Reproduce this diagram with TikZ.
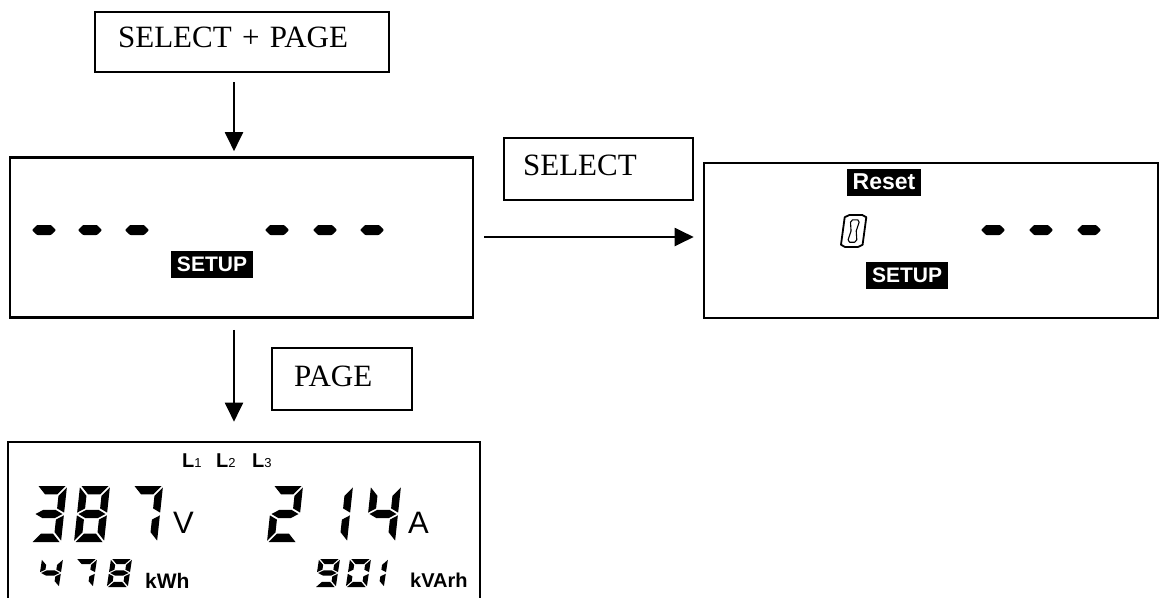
\documentclass[tikz,border=0pt]{standalone}
\usepackage{fontspec}
\setmainfont{Liberation Serif}
\newfontfamily\lcdsans{Liberation Sans}
\usetikzlibrary{arrows.meta}

% seven-segment geometry (cell: u in [0,1], v in [0,2], v downwards)
% \lcdTx: thickness of upright segments (u), \lcdTy: of flat ones (v), \lcdg: gap
\def\lcdTx{0.25}\def\lcdTy{0.3}\def\lcdg{0.05}\def\lcdk{0.1}

\def\lcdsega{\path[lcdseg] (\lcdg,0) -- ({1-\lcdg},0) -- ({1-\lcdTx-\lcdg},\lcdTy)
  -- ({\lcdTx+\lcdg},\lcdTy) -- cycle;}
\def\lcdsegd{\path[lcdseg] (\lcdg,2) -- ({1-\lcdg},2) -- ({1-\lcdTx-\lcdg},{2-\lcdTy})
  -- ({\lcdTx+\lcdg},{2-\lcdTy}) -- cycle;}
\def\lcdsegg{\path[lcdseg] (\lcdg,1) -- ({\lcdTx+\lcdg},{1-\lcdTy/2})
  -- ({1-\lcdTx-\lcdg},{1-\lcdTy/2}) -- ({1-\lcdg},1)
  -- ({1-\lcdTx-\lcdg},{1+\lcdTy/2}) -- ({\lcdTx+\lcdg},{1+\lcdTy/2}) -- cycle;}
\def\lcdsegf{\path[lcdseg] (0,\lcdg) -- (\lcdTx,{\lcdTy+\lcdg})
  -- (\lcdTx,{1-\lcdTy/2-\lcdg}) -- (0,{1-\lcdg}) -- cycle;}
\def\lcdsege{\path[lcdseg] (0,{1+\lcdg}) -- (\lcdTx,{1+\lcdTy/2+\lcdg})
  -- (\lcdTx,{2-\lcdTy-\lcdg}) -- (0,{2-\lcdg}) -- cycle;}
\def\lcdsegb{\path[lcdseg] (1,\lcdg) -- ({1-\lcdTx},{\lcdTy+\lcdg})
  -- ({1-\lcdTx},{1-\lcdTy/2-\lcdg}) -- (1,{1-\lcdg}) -- cycle;}
\def\lcdsegc{\path[lcdseg] (1,{1+\lcdg}) -- ({1-\lcdTx},{1+\lcdTy/2+\lcdg})
  -- ({1-\lcdTx},{2-\lcdTy-\lcdg}) -- (1,{2-\lcdg}) -- cycle;}

% {x of top-left}{y of top-left}{width}{height}{segments}
\newcommand\lcddigit[5]{%
  \begin{scope}[shift={(#1,#2)}, xscale=#3, yscale=#4/2, xslant=\lcdk]
    \foreach \s in {#5}{\csname lcdseg\s\endcsname}
  \end{scope}}

% hollow (outlined) zero: {x of top-left}{y of top-left}{width}{height}
\newcommand\lcdhollowzero[4]{%
  \begin{scope}[shift={(#1,#2)}, xscale=#3, yscale=#4/2, xslant=\lcdk]
    \draw[line width=1.8pt, fill=white, line join=round]
      (0.2,0) -- (0.8,0) -- (1,0.14) -- (1,1.86) -- (0.8,2) -- (0.2,2)
      -- (0,1.86) -- (0,0.14) -- cycle;
    \draw[line width=1.1pt, line join=round]
      (0.38,0.3) -- (0.62,0.3) -- (0.7,0.45) -- (0.62,1) -- (0.7,1.55)
      -- (0.62,1.7) -- (0.38,1.7) -- (0.3,1.55) -- (0.38,1) -- (0.3,0.45) -- cycle;
  \end{scope}}

% a lone dash of the display, centred at (#1,#2)
\newcommand\lcddash[2]{%
  \fill[rounded corners=0.8pt] (#1-12,#2) -- (#1-7,#2-5) -- (#1+7,#2-5)
    -- (#1+12,#2) -- (#1+7,#2+5) -- (#1-7,#2+5) -- cycle;}

\newcommand\keyfont{\fontsize{31pt}{31pt}\selectfont}
\newcommand\phsub[1]{{\mdseries\fontsize{13pt}{13pt}\selectfont#1}}

\begin{document}
\begin{tikzpicture}[x=1pt, y=-1pt,
  keybox/.style={draw, line width=2.2pt, inner ysep=0pt, font=\keyfont, align=left},
  lcdbox/.style={draw, line width=2.6pt, inner sep=0pt},
  lcdtag/.style={fill=black, text=white, inner sep=0pt, minimum height=27pt,
    font=\lcdsans\bfseries\fontsize{21pt}{21pt}\selectfont},
  unit/.style={anchor=base west, inner sep=0pt, font=\lcdsans\fontsize{31pt}{31pt}\selectfont},
  energy/.style={anchor=base west, inner sep=0pt, font=\lcdsans\bfseries\fontsize{21pt}{21pt}\selectfont},
  phase/.style={anchor=base west, inner sep=0pt, font=\lcdsans\bfseries\fontsize{20pt}{20pt}\selectfont},
  flow/.style={line width=2pt, -{Triangle[width=18pt,length=19pt]}},
  lcdseg/.style={fill=black}]
\useasboundingbox (0,0) rectangle (1161,597);

% key combinations
\node[keybox, anchor=north west, inner xsep=23pt, text width=248pt,
      text height=35pt, text depth=25pt] (combo) at (94,11) {SELECT + PAGE};
\node[keybox, anchor=north west, inner xsep=19pt, text width=151pt,
      text height=37pt, text depth=25pt] (sel) at (503,137) {SELECT};
\node[keybox, anchor=north west, inner xsep=22pt, text width=96pt,
      text height=38pt, text depth=24pt] (pg) at (271,347) {PAGE};

% display frames
\node[lcdbox, minimum width=463pt, minimum height=160pt] (setup) at (241.5,237.5) {};
\node[lcdbox, minimum width=454pt, minimum height=155pt] (reset) at (931,240.5) {};
\node[lcdbox, minimum width=472pt, minimum height=160pt] (meter) at (244,522) {};

% transitions
\coordinate (col) at (234,0);
\coordinate (row) at (0,237);
\draw[flow, shorten <=9pt, shorten >=5pt] (combo.south -| col) -- (setup.north -| col);
\draw[flow, shorten <=10pt, shorten >=9pt] (setup.east |- row) -- (reset.west |- row);
\draw[flow, shorten <=11pt, shorten >=19pt] (setup.south -| col) -- (meter.north -| col);

% setup display
\foreach \cx in {44,90,137,277,325,372} {\lcddash{\cx}{230}}
\node[lcdtag, minimum width=82pt] (tag1) at (212,264.5) {SETUP};

% reset display
\node[lcdtag, minimum width=74pt, font=\lcdsans\bfseries\fontsize{23pt}{23pt}\selectfont]
  (tag3) at (884,182) {Reset};
\lcdhollowzero{845}{215}{21.6}{32}
\foreach \cx in {993,1041,1089} {\lcddash{\cx}{230}}
\node[lcdtag, minimum width=82pt] (tag2) at (907,275) {SETUP};

% measurement display
\node[phase] (l1) at (182,467) {L\phsub{1}};
\node[phase] (l2) at (216,467) {L\phsub{2}};
\node[phase] (l3) at (252,467) {L\phsub{3}};

\lcddigit{37}{486}{30}{56}{a,b,g,c,d}
\lcddigit{80}{486}{30}{56}{a,b,c,d,e,f,g}
\lcddigit{133}{486}{30}{56}{a,b,c}
\node[unit] (volt) at (173,533) {V};
\lcddigit{273}{486}{30}{56}{a,b,g,e,d}
\lcddigit{323}{486}{30}{56}{b,c}
\lcddigit{371}{486}{30}{56}{f,g,b,c}
\node[unit] (amp) at (408,533) {A};

\begingroup
\def\lcdTx{0.24}\def\lcdTy{0.36}\def\lcdg{0.06}
\lcddigit{42}{559}{21}{28}{f,g,b,c}
\lcddigit{76}{559}{21}{28}{a,b,c}
\lcddigit{111}{559}{21}{28}{a,b,c,d,e,f,g}
\lcddigit{319}{559}{21}{28}{a,b,c,d,f,g}
\lcddigit{350}{559}{21}{28}{a,b,c,d,e,f}
\lcddigit{367}{559}{21}{28}{b,c}
\endgroup
\node[energy] (kwh) at (145,588) {kWh};
\node[energy, font=\lcdsans\bfseries\fontsize{20pt}{20pt}\selectfont] (kvarh) at (410,587) {kVArh};
\end{tikzpicture}
\end{document}
